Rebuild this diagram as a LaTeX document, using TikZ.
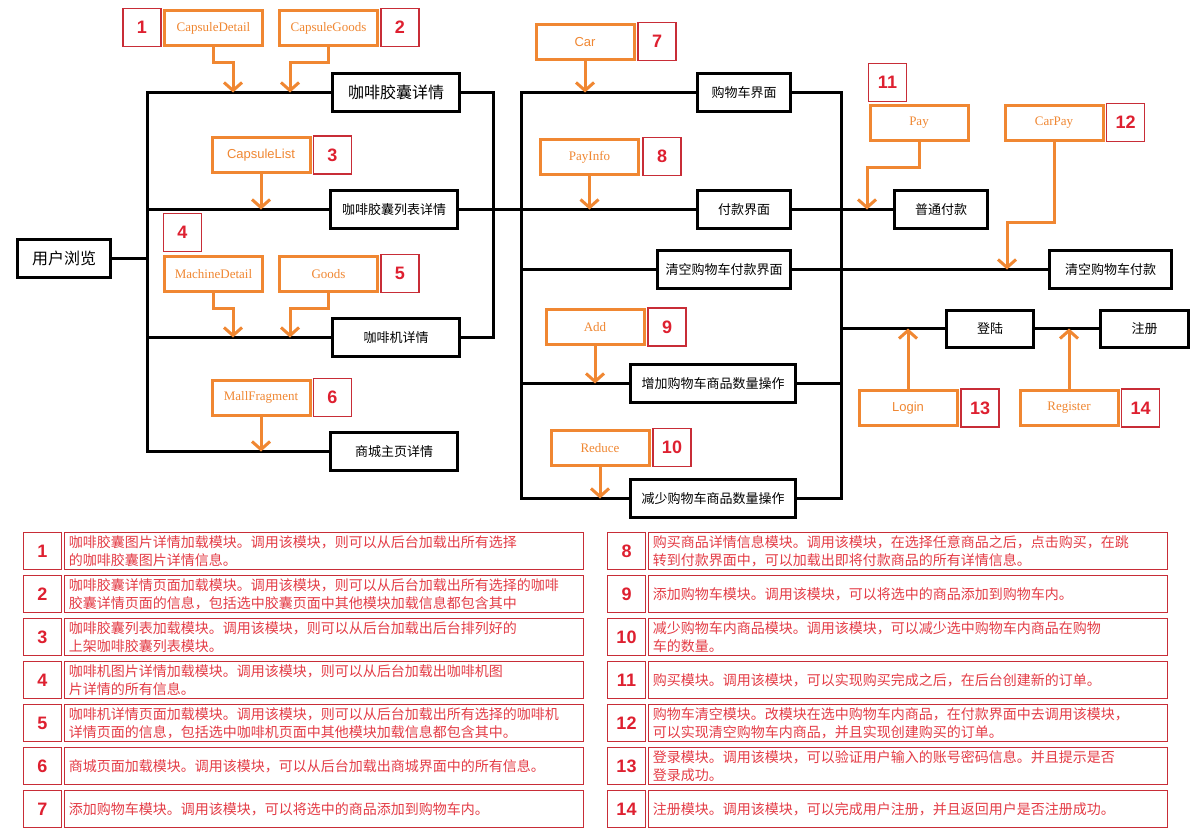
\documentclass[tikz,border=0pt]{standalone}
\usepackage{fontspec}
\setmainfont{Liberation Sans}
\newfontfamily\cjk{Noto Sans CJK SC}
\newfontfamily\tms{Liberation Serif}
\newfontfamily\ars{Liberation Sans}
\usetikzlibrary{arrows.meta}
\definecolor{org}{RGB}{240,135,50}
\definecolor{nred}{RGB}{222,32,48}
\definecolor{bred}{RGB}{200,45,55}
\definecolor{tred}{RGB}{228,60,70}
\tikzset{
  bbox/.style={draw=black, line width=2.25pt, minimum width=#1*0.75pt, minimum height=38*0.75pt, inner sep=0pt, font=\cjk\fontsize{9.75pt}{11pt}\selectfont},
  bigbox/.style={bbox=#1, font=\cjk\fontsize{12pt}{13pt}\selectfont},
  obox/.style={draw=org, line width=2.25pt, minimum width=98*0.75pt, minimum height=35*0.75pt, inner sep=0pt, text=org, font=\tms\fontsize{9.75pt}{11pt}\selectfont},
  osbox/.style={obox, font=\ars\fontsize{9.75pt}{11pt}\selectfont},
  nbox/.style={draw=bred, line width=0.8pt, minimum width=38*0.75pt, minimum height=38*0.75pt, inner sep=0pt, text=nred, font=\ars\bfseries\fontsize{13.5pt}{15pt}\selectfont},
  blk/.style={draw=black, line width=2.25pt},
  oarr/.style={draw=org, line width=2.25pt, -{Straight Barb[length=6pt,width=13.5pt]}},
  tnum/.style={draw=bred, line width=1.1pt, minimum width=37.5*0.75pt, minimum height=36.5*0.75pt, inner sep=0pt, text=nred, font=\ars\bfseries\fontsize{13.5pt}{15pt}\selectfont},
  ttxt/.style={draw=bred, line width=1.1pt, minimum height=36.5*0.75pt, text width=510.5*0.75pt, inner xsep=3pt, inner ysep=0pt, align=left, text=tred, font=\cjk\fontsize{10.5pt}{13.5pt}\selectfont}
}
\begin{document}
\begin{tikzpicture}[x=0.75pt,y=-0.75pt]
\fill[white] (0,0) rectangle (1203,832);
\useasboundingbox (0,0) rectangle (1203,832);

% junction x positions
\coordinate (LX) at (147,0);
\coordinate (RX) at (493,0);
\coordinate (MX) at (521,0);
\coordinate (NX) at (841,0);

% black boxes
\node[bigbox=93] (u) at (64,258) {用户浏览};
\node[bigbox=127] (n1) at (396,92.5) {咖啡胶囊详情};
\node[bbox=127] (n2) at (394,209.5) {咖啡胶囊列表详情};
\node[bbox=127] (n3) at (396,337.5) {咖啡机详情};
\node[bbox=127] (n4) at (394,451.5) {商城主页详情};
\node[bbox=93] (m1) at (744,92.5) {购物车界面};
\node[bbox=93] (m2) at (744,209.5) {付款界面};
\node[bbox=133] (m3) at (724,269.5) {清空购物车付款界面};
\node[bbox=165] (m4) at (713,383.5) {增加购物车商品数量操作};
\node[bbox=165] (m5) at (713,498.5) {减少购物车商品数量操作};
\node[bbox=93] (r1) at (941,209.5) {普通付款};
\node[bbox=122] (r2) at (1110.5,269.5) {清空购物车付款};
\node[bbox=87, minimum height=37*0.75pt] (r3) at (990,328.5) {登陆};
\node[bbox=88, minimum height=37*0.75pt] (r4) at (1144.5,328.5) {注册};

% black connectors
\draw[blk] (u.east) -- (u.east -| LX);
\draw[blk] (n1.west) -| (n4.west -| LX) -- (n4.west);
\draw[blk] (n2.west -| LX) -- (n2.west);
\draw[blk] (n3.west -| LX) -- (n3.west);
\draw[blk] (n1.east) -| (n3.east -| RX) -- (n3.east);
\draw[blk] (n2.east) -- (m2.west);
\draw[blk] (m1.west) -| (m5.west -| MX) -- (m5.west);
\draw[blk] (m3.west -| MX) -- (m3.west);
\draw[blk] (m4.west -| MX) -- (m4.west);
\draw[blk] (m1.east) -| (m5.east -| NX) -- (m5.east);
\draw[blk] (m2.east) -- (r1.west);
\draw[blk] (m3.east) -- (r2.west);
\draw[blk] (m4.east) -- (m4.east -| NX);
\draw[blk] (r3.west -| NX) -- (r3.west);
\draw[blk] (r3.east) -- (r4.west);

% orange boxes
\node[obox] (o1) at (213.5,28) {CapsuleDetail};
\node[obox] (o2) at (328.5,28) {CapsuleGoods};
\node[osbox] (o3) at (261,155) {CapsuleList};
\node[obox] (o4) at (213.5,274) {MachineDetail};
\node[obox] (o5) at (328.5,274) {Goods};
\node[obox] (o6) at (261,397.5) {MallFragment};
\node[osbox] (o7) at (585,42) {Car};
\node[obox] (o8) at (589.5,157) {PayInfo};
\node[obox] (o9) at (595,327) {Add};
\node[obox] (o10) at (600,448) {Reduce};
\node[obox] (o11) at (919,123) {Pay};
\node[obox] (o12) at (1054,123) {CarPay};
\node[osbox] (o13) at (908,408) {Login};
\node[obox] (o14) at (1069,408) {Register};

% number boxes
\node[nbox] (k1) at (142,27.5) {1};
\node[nbox] (k2) at (400,27.5) {2};
\node[nbox] (k3) at (332.5,155) {3};
\node[nbox] (k4) at (182.5,232.5) {4};
\node[nbox] (k5) at (400,273.5) {5};
\node[nbox] (k6) at (332.5,397.5) {6};
\node[nbox] (k7) at (657,41.5) {7};
\node[nbox] (k8) at (662,156.5) {8};
\node[nbox] (k9) at (667,327) {9};
\node[nbox] (k10) at (672,447.5) {10};
\node[nbox] (k11) at (887.5,82.5) {11};
\node[nbox] (k12) at (1125.5,122.5) {12};
\node[nbox] (k13) at (980,408) {13};
\node[nbox] (k14) at (1140.5,408) {14};

% orange arrows
\coordinate (a1) at (233,92.5);
\coordinate (a2) at (290,92.5);
\coordinate (a4) at (233,337.5);
\coordinate (a5) at (290,337.5);
\coordinate (a11) at (867,209.5);
\coordinate (a12) at (1007,269.5);
\draw[oarr] (o1.south) -- ++(0,15) -| (a1);
\draw[oarr] (o2.south) -- ++(0,15) -| (a2);
\draw[oarr] (o3.south) -- (o3.south |- n2.west);
\draw[oarr] (o4.south) -- ++(0,15) -| (a4);
\draw[oarr] (o5.south) -- ++(0,15) -| (a5);
\draw[oarr] (o6.south) -- (o6.south |- n4.west);
\draw[oarr] (o7.south) -- (o7.south |- m1.west);
\draw[oarr] (o8.south) -- (o8.south |- m2.west);
\draw[oarr] (o9.south) -- (o9.south |- m4.west);
\draw[oarr] (o10.south) -- (o10.south |- m5.west);
\draw[oarr] (o11.south) -- ++(0,25) -| (a11);
\draw[oarr] (o12.south) -- ++(0,80) -| (a12);
\draw[oarr] (o13.north) -- (o13.north |- r3.west);
\draw[oarr] (o14.north) -- (o14.north |- r4.west);

% table, left column
\node[tnum] (t1n) at (42.5,551) {1};
\node[ttxt] (t1) at (324,551) {咖啡胶囊图片详情加载模块。调用该模块，则可以从后台加载出所有选择\\的咖啡胶囊图片详情信息。};
\node[tnum] (t2n) at (42.5,594) {2};
\node[ttxt] (t2) at (324,594) {咖啡胶囊详情页面加载模块。调用该模块，则可以从后台加载出所有选择的咖啡\\胶囊详情页面的信息，包括选中胶囊页面中其他模块加载信息都包含其中};
\node[tnum] (t3n) at (42.5,637) {3};
\node[ttxt] (t3) at (324,637) {咖啡胶囊列表加载模块。调用该模块，则可以从后台加载出后台排列好的\\上架咖啡胶囊列表模块。};
\node[tnum] (t4n) at (42.5,680) {4};
\node[ttxt] (t4) at (324,680) {咖啡机图片详情加载模块。调用该模块，则可以从后台加载出咖啡机图\\片详情的所有信息。};
\node[tnum] (t5n) at (42.5,723) {5};
\node[ttxt] (t5) at (324,723) {咖啡机详情页面加载模块。调用该模块，则可以从后台加载出所有选择的咖啡机\\详情页面的信息，包括选中咖啡机页面中其他模块加载信息都包含其中。};
\node[tnum] (t6n) at (42.5,766) {6};
\node[ttxt] (t6) at (324,766) {商城页面加载模块。调用该模块，可以从后台加载出商城界面中的所有信息。};
\node[tnum] (t7n) at (42.5,809) {7};
\node[ttxt] (t7) at (324,809) {添加购物车模块。调用该模块，可以将选中的商品添加到购物车内。};

% table, right column
\node[tnum] (t8n) at (626.5,551) {8};
\node[ttxt] (t8) at (908,551) {购买商品详情信息模块。调用该模块，在选择任意商品之后，点击购买，在跳\\转到付款界面中，可以加载出即将付款商品的所有详情信息。};
\node[tnum] (t9n) at (626.5,594) {9};
\node[ttxt] (t9) at (908,594) {添加购物车模块。调用该模块，可以将选中的商品添加到购物车内。};
\node[tnum] (t10n) at (626.5,637) {10};
\node[ttxt] (t10) at (908,637) {减少购物车内商品模块。调用该模块，可以减少选中购物车内商品在购物\\车的数量。};
\node[tnum] (t11n) at (626.5,680) {11};
\node[ttxt] (t11) at (908,680) {购买模块。调用该模块，可以实现购买完成之后，在后台创建新的订单。};
\node[tnum] (t12n) at (626.5,723) {12};
\node[ttxt] (t12) at (908,723) {购物车清空模块。改模块在选中购物车内商品，在付款界面中去调用该模块，\\可以实现清空购物车内商品，并且实现创建购买的订单。};
\node[tnum] (t13n) at (626.5,766) {13};
\node[ttxt] (t13) at (908,766) {登录模块。调用该模块，可以验证用户输入的账号密码信息。并且提示是否\\登录成功。};
\node[tnum] (t14n) at (626.5,809) {14};
\node[ttxt] (t14) at (908,809) {注册模块。调用该模块，可以完成用户注册，并且返回用户是否注册成功。};
\end{tikzpicture}
\end{document}
